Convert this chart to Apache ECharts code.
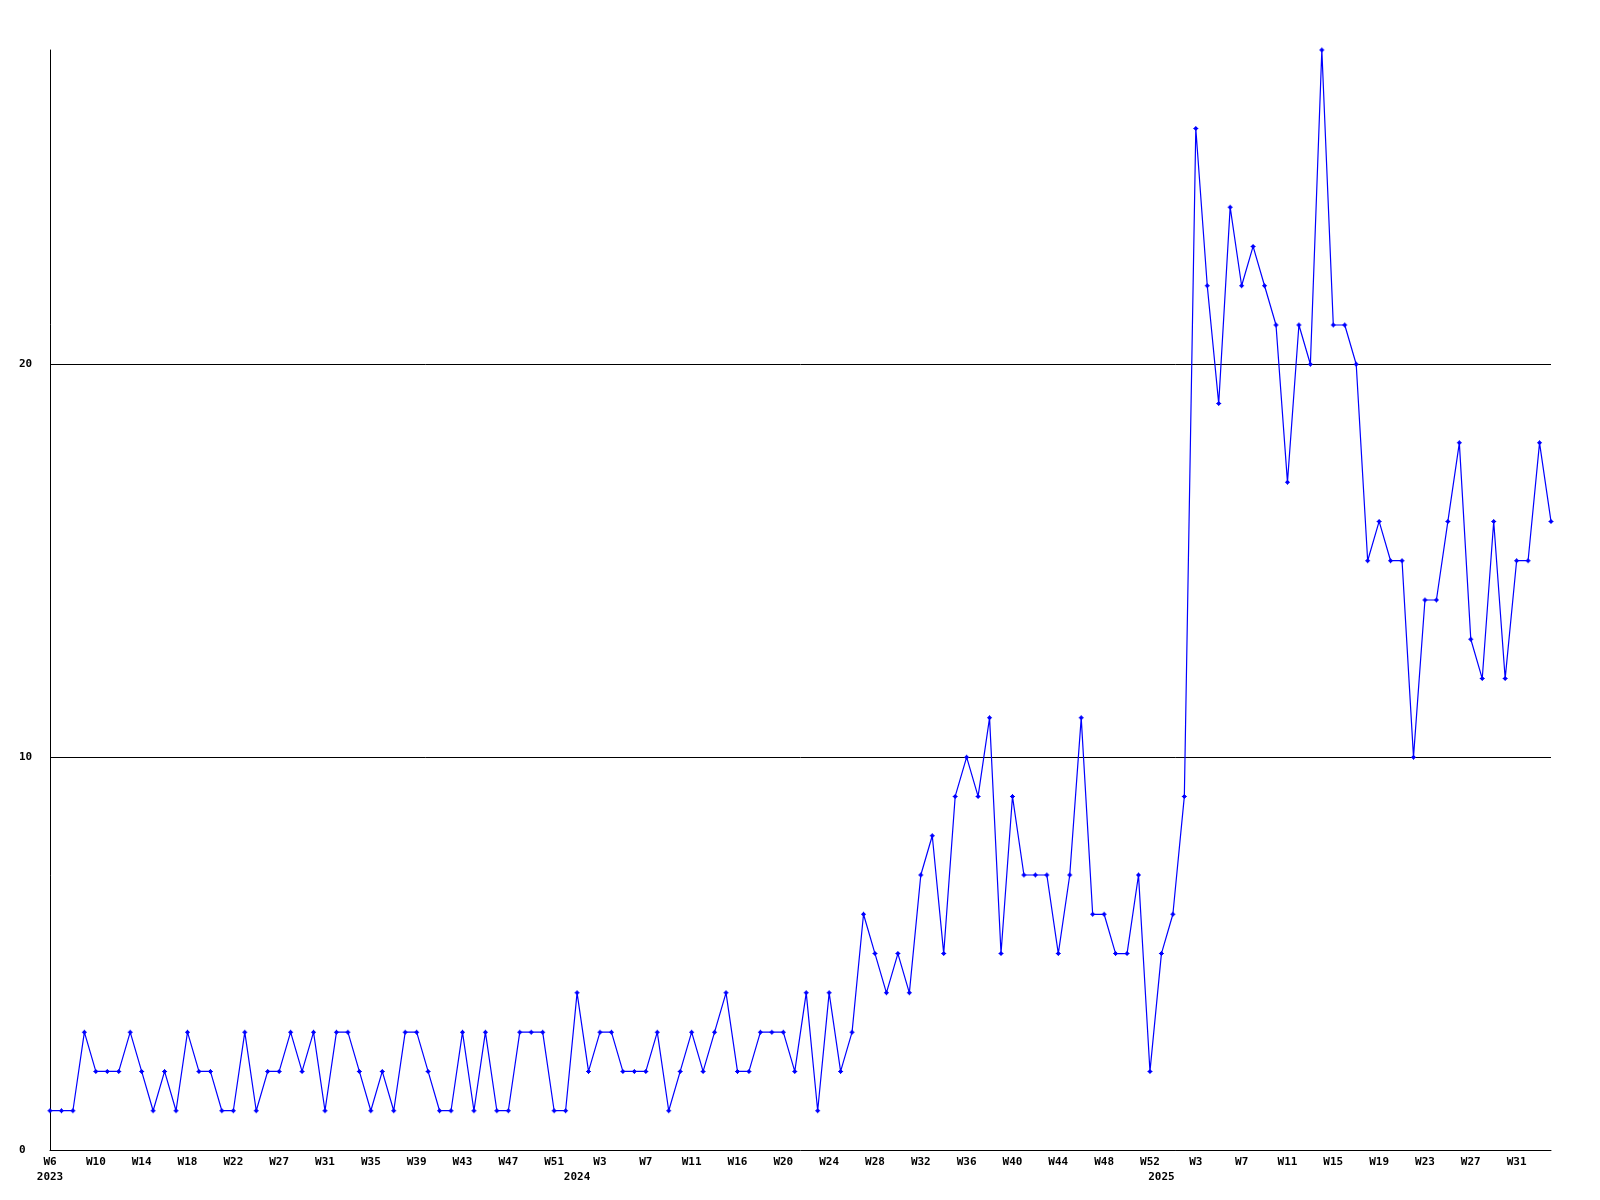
<!DOCTYPE html>
<html>
<head>
<meta charset="utf-8">
<script src="https://cdn.jsdelivr.net/npm/echarts@6/dist/echarts.min.js"></script>
<style>
  html, body { margin: 0; padding: 0; background: #ffffff; }
  #chart { width: 1600px; height: 1200px; }
</style>
</head>
<body>
<div id="chart"></div>
<script>
// Weekly values, first point = W6 2023, last point = W34 2025
const values2023 = [1,1,1,3,2,2,2,3,2,1,2,1,3,2,2,1,1,3,1,2,2,3,2,3,1,3,3,2,1,2,1,3,3,2,1,1,3,1,3,1,1,3,3,3,1,1];
const values2024 = [4,2,3,3,2,2,2,3,1,2,3,2,3,4,2,2,3,3,3,2,4,1,4,2,3,6,5,4,5,4,7,8,5,9,10,9,11,5,9,7,7,7,5,7,11,6,6,5,5,7,2];
const values2025 = [5,6,9,26,22,19,24,22,23,22,21,17,21,20,28,21,21,20,15,16,15,15,10,14,14,16,18,13,12,16,12,15,15,18,16];

// X tick labels, shown every tickStep points starting at the first point
const tickLabels = ['W6','W10','W14','W18','W22','W27','W31','W35','W39','W43','W47','W51',
                    'W3','W7','W11','W16','W20','W24','W28','W32','W36','W40','W44','W48','W52',
                    'W3','W7','W11','W15','W19','W23','W27','W31'];
const tickStep = 4;

// Year labels and the point index where each year starts
const yearLabels = ['2023', '2024', '2025'];
const yearStartIndex = [0, values2023.length, values2023.length + values2024.length];

// Y axis ticks
const yTicks = [0, 10, 20];
const yMax = 28;

const seriesValues = values2023.concat(values2024, values2025);
const categories = seriesValues.map((v, i) =>
  (i % tickStep === 0 && tickLabels[i / tickStep] !== undefined) ? tickLabels[i / tickStep] : '');
const yearCategories = seriesValues.map((v, i) => {
  const k = yearStartIndex.indexOf(i);
  return k >= 0 ? yearLabels[k] : '';
});

const font = '"DejaVu Sans Mono", "Liberation Mono", monospace';
const chart = echarts.init(document.getElementById('chart'), null, { renderer: 'canvas' });

chart.setOption({
  animation: false,
  backgroundColor: '#ffffff',
  grid: { left: 50, right: 49, top: 50, bottom: 50, containLabel: false },
  xAxis: [
    {
      type: 'category',
      data: categories,
      boundaryGap: false,
      axisLine: { show: true, lineStyle: { color: '#000000', width: 1 } },
      axisTick: { show: false },
      splitLine: { show: false },
      axisLabel: {
        interval: (index) => index % tickStep === 0 && tickLabels[index / tickStep] !== undefined,
        margin: 7,
        color: '#000000',
        fontFamily: font,
        fontWeight: 'bold',
        fontSize: 11
      }
    },
    {
      type: 'category',
      data: yearCategories,
      boundaryGap: false,
      position: 'bottom',
      axisLine: { show: false },
      axisTick: { show: false },
      splitLine: { show: false },
      axisLabel: {
        interval: (index) => yearStartIndex.indexOf(index) >= 0,
        margin: 22,
        color: '#000000',
        fontFamily: font,
        fontWeight: 'bold',
        fontSize: 11
      }
    }
  ],
  yAxis: {
    type: 'value',
    min: 0,
    max: yMax,
    interval: 10,
    axisLine: { show: true, lineStyle: { color: '#000000', width: 1 } },
    axisTick: { show: false },
    splitLine: { show: true, showMinLine: false, showMaxLine: false, lineStyle: { color: '#000000', width: 1 } },
    axisLabel: {
      showMaxLabel: false,
      formatter: (v) => (yTicks.indexOf(v) >= 0 ? String(v) : ''),
      align: 'left',
      margin: 31,
      color: '#000000',
      fontFamily: font,
      fontWeight: 'bold',
      fontSize: 11
    }
  },
  series: [{
    type: 'line',
    xAxisIndex: 0,
    data: seriesValues,
    symbol: 'path://M2,0H3V1H4V2H5V3H4V4H3V5H2V4H1V3H0V2H1V1H2Z',
    symbolSize: 5,
    showAllSymbol: true,
    clip: false,
    lineStyle: { color: '#0000ff', width: 1.2 },
    itemStyle: { color: '#0000ff', borderWidth: 0 },
    emphasis: { disabled: true }
  }]
});
</script>
</body>
</html>
